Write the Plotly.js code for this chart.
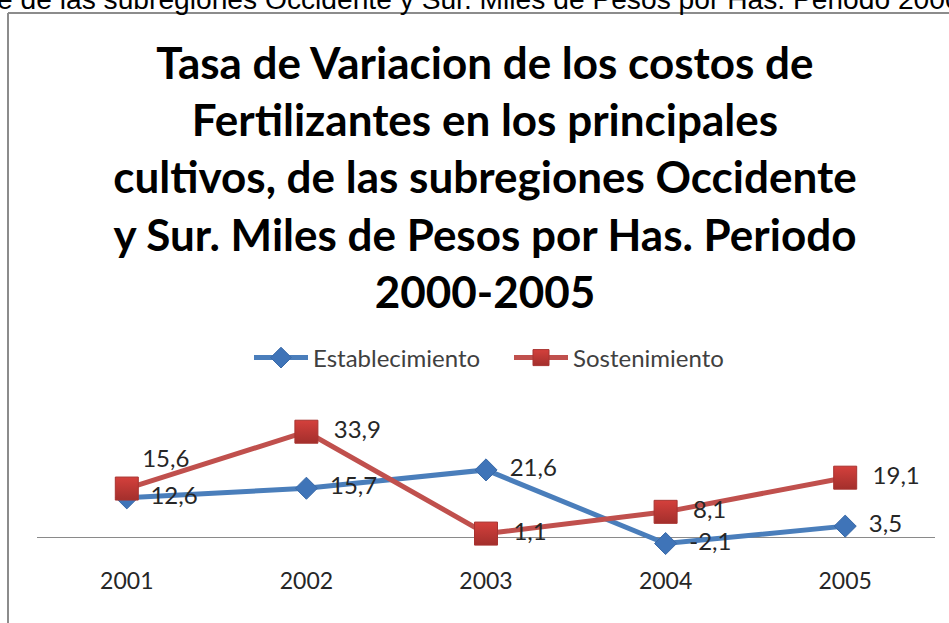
<!DOCTYPE html>
<html>
<head>
<meta charset="utf-8">
<script src="https://cdn.plot.ly/plotly-3.0.1.min.js"></script>
<style>html,body{margin:0;padding:0;background:#fff;}#chart{width:949px;height:623px;}</style>
</head>
<body>
<div id="chart"></div>
<script>
var years = ['2001', '2002', '2003', '2004', '2005'];
var establecimiento = [12.6, 15.7, 21.6, -2.1, 3.5];
var sostenimiento = [15.6, 33.9, 1.1, 8.1, 19.1];
var seriesNames = ['Establecimiento', 'Sostenimiento'];
var chartTitle = 'Tasa de Variacion de los costos de<br>Fertilizantes en los principales<br>cultivos, de las subregiones Occidente<br>y Sur. Miles de Pesos por Has. Periodo<br>2000-2005';
var headerText = 'e de las subregiones Occidente y Sur. Miles de Pesos por Has. Periodo 2000-2005';

function fmt(v) { return String(v).replace('.', ','); }

var W = 949, H = 623;
var mL = 37, mR = 14, mT = 410, mB = 58;
var pw = W - mL - mR, ph = H - mT - mB;
function px2x(px) { return (px - mL) / pw; }
function py2y(py) { return (H - mB - py) / ph; }

var FONT = 'Lato, "Open Sans", sans-serif';
var labelFont = {family: FONT, size: 24, color: '#262626'};
var gap = '\u2002';

var traces = [
  {
    x: years, y: establecimiento, name: seriesNames[0],
    type: 'scatter', mode: 'lines+markers+text',
    line: {color: '#4a7ebb', width: 5},
    marker: {symbol: 'diamond', size: 17, color: '#3f74b8', line: {color: '#3a6aa8', width: 1}},
    text: establecimiento.map(function (v) { return gap + fmt(v); }),
    textposition: 'middle right',
    textfont: labelFont,
    cliponaxis: false
  },
  {
    x: years, y: sostenimiento, name: seriesNames[1],
    type: 'scatter', mode: 'lines+markers+text',
    line: {color: '#c0504d', width: 5},
    marker: {symbol: 'square', size: 23, color: '#d4403c', gradient: {type: 'vertical', color: '#a32f2c'}, line: {color: '#a83330', width: 1}},
    text: sostenimiento.map(function (v, i) { return (i === 0 ? '' : gap) + fmt(v); }),
    textposition: ['top right', 'middle right', 'middle right', 'middle right', 'middle right'],
    textfont: labelFont,
    cliponaxis: false
  }
];

var layout = {
  width: W, height: H,
  margin: {l: mL, r: mR, t: mT, b: mB, pad: 0},
  paper_bgcolor: '#ffffff', plot_bgcolor: '#ffffff',
  title: {
    text: chartTitle,
    font: {family: FONT, size: 44, color: '#000000', weight: 'bold'},
    xref: 'container', yref: 'container',
    x: 0.511, xanchor: 'center',
    y: 1 - 79 / H, yanchor: 'top'
  },
  showlegend: true,
  legend: {
    orientation: 'h',
    x: px2x(249), xanchor: 'left',
    y: py2y(358), yanchor: 'middle',
    font: {family: FONT, size: 24, color: '#404040'},
    itemwidth: 54,
    entrywidth: 191,
    bgcolor: 'rgba(0,0,0,0)'
  },
  xaxis: {
    type: 'category',
    range: [-0.5, 4.5],
    showgrid: false, zeroline: false, showline: false,
    ticks: '',
    tickfont: {family: FONT, size: 23, color: '#262626'},
    fixedrange: true
  },
  yaxis: {
    range: [-28 / 3.106, (ph - 28) / 3.106],
    showgrid: false, showticklabels: false, ticks: '',
    zeroline: true, zerolinecolor: '#8a8a8a', zerolinewidth: 1,
    showline: false, fixedrange: true
  },
  shapes: [
    {type: 'line', xref: 'paper', yref: 'paper', x0: px2x(8), x1: px2x(8), y0: py2y(13), y1: py2y(640), line: {color: '#8c8c8c', width: 2}},
    {type: 'line', xref: 'paper', yref: 'paper', x0: px2x(8), x1: px2x(960), y0: py2y(13), y1: py2y(13), line: {color: '#8c8c8c', width: 2}}
  ],
  annotations: [
    {
      text: headerText, showarrow: false,
      xref: 'paper', yref: 'paper',
      x: px2x(-5), xanchor: 'left',
      y: py2y(17), yanchor: 'bottom',
      font: {family: '"Liberation Sans", Arial, sans-serif', size: 28.2, color: '#000000'}
    }
  ]
};

Plotly.newPlot('chart', traces, layout, {displayModeBar: false, staticPlot: true});
</script>
</body>
</html>
